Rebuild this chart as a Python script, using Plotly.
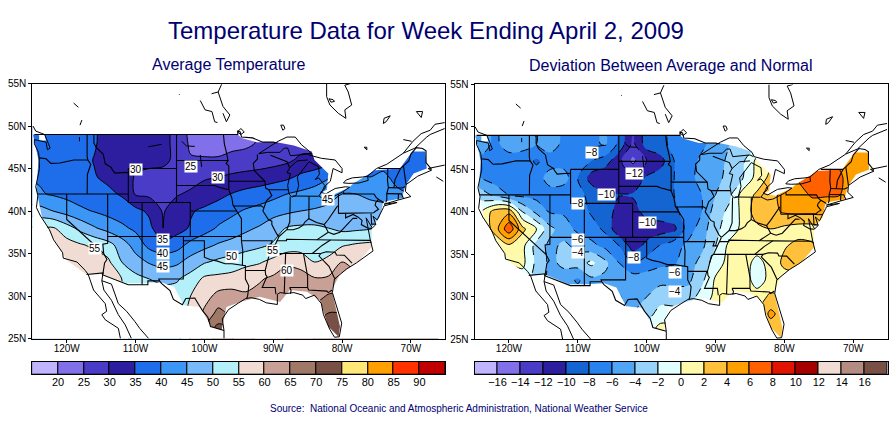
import plotly.graph_objects as go

LONS = list(range(-126, -65, 2))
LATS = list(range(24, 51, 2))

# average temperature (deg F) read at grid nodes, south to north
T24 = [58,58,58,58,58,58,58,56,54,53,53,53,60,66,72,70,66,64,64,65,67,70,73,73,73,73,73,73,73,73,73]
T26 = [58,58,58,58,58,58,58,56,54,53,53,53,60,66,72,70,66,64,64,65,67,70,73,73,73,73,73,73,73,73,73]
T28 = [58,58,58,58,58,58,58,56,54,53,53,53,56,61,66.5,64,62,62,63,64,65,67,70,70,70,70,70,70,70,70,70]
T30 = [58,58,58,58,58,58,58,55,53,52,52,52,55,58,61.5,62,60.5,61.5,63,64,64,63,65.5,66,66,66,66,66,66,66,66]
T32 = [58,58,58,58,58,58.5,60,55,51.5,50,49,49.5,52,56,56.5,57,58.5,59.5,61,62.5,63,60.5,60.7,62,62,62,62,62,62,62,62]
T34 = [57,57,57,57,57,57.5,56,50,47,44.5,43,44,47,49.5,51,52,53.5,54.5,56.5,59,57.5,55,56.5,60,58,58,58,58,58,58,58]
T36 = [57,57,57,57,55.5,54,52,47.5,43,38.5,37,38,41.5,43.5,45.5,46.8,47.8,49,50.5,52,53,53.5,52,54.5,55.5,56,56,56,56,56,56]
T38 = [56,55,55.5,52,48.5,45.5,43,41,39,36.5,30,33,35.5,38,40.5,42,44,45.5,48,50.3,51,51,50,48.8,49,49.5,51,51,51,51,51]
T40 = [48,47,45,43,41,39.7,38.5,37.5,36.5,34,29.5,33,34.5,36,37.5,39,40.5,41.5,43,44,45,45.5,46,46.5,46.5,47,47,47,47,47,47]
T42 = [41,40.5,39.5,38.5,37.5,37,36,34.5,29.5,29,28.5,29.5,31,32,33.5,35.2,36.5,37.5,38.5,40,41,42,43.5,45,45,44,43,41,40,40,40]
T44 = [40,39.5,38,38,37.5,35.3,34,33,29.5,29,28.5,28,27.5,29.5,30,31,31.5,32,33,34,36,37.5,39.5,41,42,40,41,38.5,38.5,38,38]
T46 = [38,37,37,37,36.5,34.8,33,32,31.5,31,31,29,25.5,25.5,25.5,26,27,27.5,28,29,31,31.5,33,36,36,37,38,38,38,38,38]
T48 = [39,38,37,37,36.5,35.5,33,33,32,31,31,29,24,23,23,24,24,25.5,26,27,28,28,30,32,34,36,37,38,38,38,38]
T50 = [39,38,37,37,36.5,35.5,33,33,32,31,31,29,23,22,22,23,24,25,26,27,28,28,30,32,34,36,37,38,38,38,38]
TEMP = [T24,T26,T28,T30,T32,T34,T36,T38,T40,T42,T44,T46,T48,T50]

# departure from normal (deg F) read at the same nodes
D24 = [-4,-4,-4,-4,-4,-4,-5,-5,-5,-5,-5,-5,-3,-1,0.8,0.5,0,0,0.5,1,1,2,2.7,2.7,2.7,2.7,2.7,2.7,2.7,2.7,2.7]
D26 = [-4,-4,-4,-4,-4,-4,-5,-5,-5,-5,-5,-5,-3,-1,0.8,0.5,0,0,0.5,1,1,2,2.7,2.7,2.7,2.7,2.7,2.7,2.7,2.7,2.7]
D28 = [-4,-4,-4,-4,-4,-4,-5,-5,-5,-5,-5,-5,-4,-3,-1,-1,-1,0,0.5,1,1,2,4.5,3,3,3,3,3,3,3,3]
D30 = [-4,-4,-4,-4,-4,-4,-5,-5,-5,-5,-5,-6.3,-5,-4,-3,-3.2,-3,-1.2,0.5,1,1,0.8,2.5,2,2,2,2,2,2,2,2]
D32 = [-1,-1,-1,-1,-1,-3,-4.5,-5,-6.3,-4.5,-4.5,-4.5,-4.8,-5,-4.5,-4.5,-4.5,-2.5,0.3,0.8,1,-0.8,0.5,1,1,1,1,1,1,1,1]
D34 = [-1,-1,0,0,0.5,-2.5,-4.5,-3.5,-3,-1.5,-3.5,-6,-8,-7,-6.5,-6.2,-5,-3.3,-1,0.7,1,-0.7,0.7,2.5,3,2.5,2,2,2,2,2]
D36 = [-1,-1,0,1.5,0.5,-2.8,-4.5,-3.6,-4.5,-5.5,-6.5,-8,-10.9,-9.5,-7.8,-6.8,-5.5,-4.5,-2,0.5,1,1,1.5,1.8,2.6,2.3,1.5,1.5,1.5,1.5,1.5]
D38 = [0,0,3,7.5,2.5,0,-3.5,-5,-6.5,-7,-8.5,-11.5,-11,-11,-11,-10.5,-7,-5,-2.5,-1,0.5,1.5,2,1.5,1,1,1.5,1.5,1.5,1.5,1.5]
D40 = [0,0,3,3.5,-2,-4.5,-6.2,-6.3,-6.8,-8.3,-8.7,-11,-10.8,-9.3,-8.8,-8.5,-7,-6,-3,-1.5,0.6,3,3.5,4.2,4.5,4.5,4.5,4,4,4,4]
D42 = [-2,-3,-4.5,-6,-6.5,-6.7,-7,-7.5,-7.5,-8.5,-9.8,-9.9,-9.8,-9,-8.5,-8,-7,-6,-4,-2.5,1,2.3,3.5,4.5,5,6.3,6.2,6.1,4,4,4]
D44 = [-5,-6,-7,-7,-7,-7,-5,-5,-8,-11,-11.8,-11.5,-11.5,-9.7,-9,-8,-6.5,-5.5,-4.5,-3.5,-2,0.8,2.5,3,6.2,7,7.2,6.5,4.5,4,4]
D46 = [-6,-6.5,-7,-7,-7,-8.3,-7,-7,-7.5,-8,-9,-11.5,-14.5,-12,-10.8,-8,-7,-5.5,-5,-3.5,-2.3,0.5,1.5,2,3,5,6.5,5.5,4.5,4.5,4]
D48 = [-5,-5,-6.5,-5,-5.3,-6,-5,-6.5,-7,-6.5,-5.7,-8.5,-12.5,-9,-8.5,-7.5,-7.2,-6.5,-5,-4,-3,-2,-1,0,1,3,4,5,4.5,4.5,4]
D50 = [-5,-5,-6.5,-5,-5.3,-6,-5,-6.5,-7,-6.5,-5.7,-8.5,-12.5,-9,-8.5,-7.5,-7.2,-6.5,-5,-4,-3,-2,-1,0,1,3,4,5,4.5,4.5,4]
DEV = [D24,D26,D28,D30,D32,D34,D36,D38,D40,D42,D44,D46,D48,D50]

TEMP_LEVELS = [20,25,30,35,40,45,50,55,60,65,70,75,80,85,90]
TEMP_COLORS = ["#c0b4ff","#8170ea","#4b3cc8","#2d1ea0","#1e6eeb","#3c96f5","#78b9fa","#b4f0fa",
               "#f0dcd2","#c8a096","#a07868","#785046","#ffe878","#ffa000","#ff3200","#c00000"]
DEV_LEVELS = [-16,-14,-12,-10,-8,-6,-4,-2,0,2,4,6,8,10,12,14,16]
DEV_COLORS = ["#c0b4ff","#8170ea","#4b3cc8","#2d1ea0","#1464d2","#2882f0","#50a5f5","#96d2fa","#e1ffff",
              "#fffaaa","#ffc03c","#ffa000","#ff6000","#e11400","#a50000","#f0dcd2","#b48c82","#785046"]

TEMP_LABELS = [(-109.9,44.9,"30"),(-101.9,45.2,"25"),(-98,43.9,"30"),(-106,36.6,"35"),(-106,35,"40"),
               (-106,33.5,"45"),(-115.9,35.6,"55"),(-96,34.7,"50"),(-90,35.4,"55"),(-88,33,"60"),(-82,41.4,"45")]
DEV_LABELS = [(-107.9,47,"−8"),(-101.8,44.5,"−12"),(-105.9,42,"−10"),(-109.9,41,"−8"),(-99.9,38.8,"−10"),
              (-109.9,36.7,"−6"),(-109.9,35.2,"−4"),(-101.9,34.6,"−8"),(-95.9,32.9,"−6"),(-95.9,30.6,"−4")]

X_TICKS = [-120,-110,-100,-90,-80,-70]
X_TEXT = ["120W","110W","100W","90W","80W","70W"]
Y_TICKS = [25,30,35,40,45,50,55]
Y_TEXT = ["25N","30N","35N","40N","45N","50N","55N"]

# outline of the area with data, used to blank everything around it
US_EDGE = [(-123.3,49),(-95.15,49),(-94.6,48.6),(-92.4,48.1),(-89.5,48.1),(-87,47.7),(-84.4,47),(-84,46),(-82,44.4),
           (-82.2,42.5),(-82.9,42.2),(-81.3,41.9),(-78.9,42.8),(-78.4,43.2),(-75.2,44.8),(-71.6,45),(-71,45.7),(-69.8,47),
           (-67.9,47),(-67.7,45),(-69.6,44.4),(-70.8,43),(-71.3,41.5),(-74,41.1),(-74.5,39.3),(-75.7,38.1),(-75.7,35.8),
           (-77.4,34.2),(-80.3,32.6),(-81.5,30.7),(-80.3,26.4),(-80.5,25.2),(-82,26.4),(-83.2,29.5),(-85.1,30.5),(-87.6,30.7),
           (-89,29.3),(-92,29.9),(-94.8,29.3),(-96.8,28.7),(-97.5,26),(-99,26.4),(-100.6,28.7),(-103,28.9),(-104.4,31.1),
           (-106.2,31.6),(-108.4,31.5),(-111.3,31.5),(-114.7,32.6),(-117.1,32.5),(-120,34.2),(-122.4,37.4),(-123.6,39.3),
           (-124.4,42.5),(-124.1,46),(-124.7,48.2),(-124.9,49),(-124,48.9),(-124,48.3),(-123,48.3),(-123.3,49)]

BORDERS = [
 [(-124.7,49),(-95.15,49),(-95.15,49.4),(-94.8,49.3),(-94.6,48.7),(-93,48.6),(-91.5,48.1),(-90,48.1),(-89.4,48)],
 [(-124,46.25),(-123,46.15),(-122.3,45.6),(-121,45.65),(-119.3,45.95),(-118.98,46),(-116.92,46)],
 [(-117.03,49),(-117.04,46.4),(-116.92,46),(-116.5,45.5),(-117,44.3),(-117.03,42)],
 [(-124.2,42),(-111.05,42)],
 [(-120,42),(-120,39),(-114.63,35),(-114.75,36.1),(-114.05,36.2),(-114.05,42)],
 [(-114.63,35),(-114.15,34.3),(-114.5,33.9),(-114.72,32.72)],
 [(-117.12,32.53),(-114.72,32.72),(-114.81,32.5),(-111.07,31.33),(-108.21,31.33),(-108.21,31.78),(-106.53,31.78),(-106.2,31.45),
  (-105,30.65),(-104.5,29.6),(-103.2,28.98),(-102.7,29.7),(-101.4,29.77),(-100.3,28.3),(-99.5,27.5),(-99.1,26.4),(-97.15,25.95)],
 [(-114.05,37),(-102.04,37),(-94.62,37)],
 [(-109.05,41),(-109.05,31.33)],
 [(-111.05,45),(-111.05,41),(-104.05,41),(-104.05,49)],
 [(-111.05,45),(-104.05,45)],
 [(-116.05,49),(-116.05,48),(-115.7,47.45),(-114.7,46.7),(-114.4,45.55),(-113.5,45.1),(-113.45,44.95),(-113,44.45),(-111.5,44.55),(-111.05,44.5)],
 [(-104.05,45.94),(-96.56,45.94)],
 [(-104.05,43),(-98.5,43),(-97.9,42.8),(-96.45,42.5)],
 [(-104.05,41),(-102.05,41),(-102.05,37)],
 [(-102.05,40),(-95.3,40)],
 [(-97.23,49),(-97.1,47.9),(-96.8,46.9),(-96.56,45.94),(-96.85,45.6),(-96.45,45.3),(-96.45,42.5),(-96,41.5),(-95.85,40.7),(-95.3,40),(-94.62,39.1),(-94.62,36.5)],
 [(-96.45,43.5),(-91.22,43.5)],
 [(-92.3,46.66),(-92.3,46.1),(-92.9,45.6),(-92.75,44.75),(-91.2,43.5),(-91.1,42.7),(-90.65,42.5),(-90.2,41.8),(-91,41.2),(-91.4,40.4),(-91.5,40),(-90.7,39),(-90.2,38.8),(-90.2,38.4),(-89.5,37.3),(-89.15,37)],
 [(-95.77,40.58),(-91.73,40.6),(-91.4,40.4)],
 [(-94.62,36.5),(-90.15,36.5),(-90.37,36),(-89.7,36)],
 [(-94.62,36.5),(-94.43,35.4),(-94.48,33.64)],
 [(-103.04,37),(-103.06,32),(-106.62,32),(-106.53,31.78)],
 [(-103.04,36.5),(-100,36.5),(-100,34.56),(-99.2,34.3),(-98.1,34.1),(-97,33.8),(-96,33.8),(-94.48,33.64),(-94.04,33.55),(-94.04,31.99),(-93.55,31.2),(-93.7,30.1),(-93.85,29.7)],
 [(-94.04,33),(-91.17,33),(-91.1,32.5),(-90.9,32.3),(-91.6,31),(-89.73,31),(-89.6,30.2)],
 [(-91.17,33),(-90.6,34.8),(-90.3,35),(-89.7,36),(-89.5,36.5),(-89.15,37)],
 [(-90.3,35),(-84.32,35),(-83.1,35)],
 [(-89.5,36.5),(-88.07,36.5),(-88.07,36.68),(-83.68,36.6),(-81.68,36.59),(-75.9,36.55)],
 [(-83.68,36.6),(-82,37.5),(-82.6,38.4)],
 [(-81.68,36.59),(-82.9,35.95),(-84.32,35)],
 [(-83.1,35),(-82.3,35.2),(-81,35.15),(-80.8,34.82),(-79.67,34.8),(-78.55,33.86)],
 [(-83.1,35),(-83.35,34.7),(-81.9,33.5),(-81.1,32.1),(-80.9,32.03)],
 [(-85.6,34.98),(-85.18,32.87),(-85,32.3),(-85,31),(-84.86,30.7),(-82.2,30.57),(-82,30.4),(-81.45,30.7)],
 [(-87.6,31),(-85,31)],
 [(-87.6,31),(-87.4,30.65),(-87.5,30.28)],
 [(-88.2,35),(-88.4,31.9),(-88.4,30.3)],
 [(-90.65,42.5),(-87.8,42.5)],
 [(-87.53,41.7),(-87.53,39.35),(-87.6,38.7),(-88.03,37.8)],
 [(-89.15,37),(-88.03,37.8),(-87.1,37.8),(-86.3,38),(-85.7,38.3),(-85.4,38.7),(-84.82,39.1),(-83.7,38.65),(-82.6,38.4),(-82,39),(-80.65,40.6)],
 [(-84.82,39.1),(-84.8,41.7)],
 [(-87.2,41.76),(-84.8,41.76),(-83.45,41.73)],
 [(-80.52,42),(-80.52,39.72)],
 [(-79.76,42.27),(-79.76,42),(-75.35,42),(-75.05,41.6),(-74.7,41.36),(-73.9,41)],
 [(-80.52,39.72),(-75.79,39.72),(-75.4,39.8),(-75.1,40),(-74.7,40.2),(-75.2,40.7),(-75.1,41),(-74.7,41.36)],
 [(-75.79,39.72),(-75.7,38.46),(-75.05,38.45)],
 [(-79.48,39.72),(-79.48,39.2),(-78.4,39.6),(-77.7,39.3),(-77.1,38.9),(-77.2,38.4),(-76.3,38),(-75.65,37.95)],
 [(-82,37.5),(-81.2,37.25),(-80.3,37.5),(-79.3,38.4),(-78.4,39.15),(-77.8,39.13)],
 [(-74.7,45),(-73.35,45),(-73.4,43.6),(-73.27,42.75),(-73.5,42.05),(-73.5,41.3),(-73.65,41)],
 [(-73.35,45),(-71.5,45),(-71.08,45.3),(-70.3,45.9),(-70,46.7),(-69.2,47.45),(-68.3,47.35),(-67.8,47.07),(-67.8,45.7),(-67,44.9)],
 [(-71.5,45),(-72.3,43.7),(-72.46,42.73)],
 [(-73.27,42.75),(-71.3,42.7),(-70.8,42.87)],
 [(-73.5,42.05),(-71.8,42),(-71.38,42.02),(-71.1,41.5)],
 [(-71.8,42),(-71.85,41.32)],
 [(-71.08,45.3),(-70.7,43.1)],
 [(-90.4,46.55),(-89,46.1),(-88,45.8),(-87.6,45.1)],
]

COASTS = [
 [(-124.7,48.4),(-124.7,47.9),(-124.1,46.9),(-124,46.25),(-123.95,45),(-124.5,42.85),(-124.2,41.8),(-124.4,40.4),(-123.8,39.4),(-122.5,37.8),
  (-121.9,36.6),(-120.6,35.1),(-120.5,34.45),(-118.5,34),(-117.3,33),(-116.86,32.5),(-116.1,30.7),(-114.4,29.1),(-114.2,28.2),(-114.9,27.8),
  (-114.4,27.2),(-112.5,26.2),(-112.2,25)],
 [(-114.72,32.72),(-114.9,31.8),(-114.6,30.7),(-113.5,29.5),(-112.5,27.8),(-111.5,26.6),(-110.6,25)],
 [(-114.9,31.8),(-113.5,31.4),(-112.5,29.1),(-111.3,28.2),(-110.1,27),(-109.4,26.2),(-108.1,25)],
 [(-124.9,50),(-124.5,49.4),(-123.2,49),(-122.8,48.3),(-122.4,47.4),(-122.8,47.2),(-123,48.1),(-124.7,48.4)],
 [(-97.15,25),(-97.15,25.95),(-97.4,27.3),(-96.5,28.4),(-95,29.2),(-94,29.7),(-93.2,29.8),(-92,29.6),(-91,29.2),(-89.4,29),(-89.4,30.2),(-89,30.4),
  (-88,30.3),(-87,30.4),(-85.7,30.1),(-85.3,29.7),(-84,30.1),(-83,29.1),(-82.7,27.8),(-81.8,26.1),(-81.1,25.15),(-80.4,25.2),(-80.05,26.8),
  (-80.6,28.4),(-81.4,30.4),(-81.1,32),(-79.3,33.2),(-77.9,33.9),(-76.6,34.7),(-75.5,35.3),(-75.9,36.6),(-76,37),(-76.3,38),(-76.5,39.2),
  (-75.6,38),(-75.1,38.4),(-75.5,39.4),(-74.9,38.95),(-74,40.4),(-73.9,40.6),(-72,41),(-73.9,40.8),(-71.8,41.3),(-71,41.5),(-70,41.7),
  (-70.8,42.3),(-70.7,43.1),(-69,44.1),(-67,44.8),(-67.5,45),(-65.1,45.4)],
 [(-92.1,46.75),(-90.8,46.9),(-89,46.9),(-88.4,47.4),(-87.9,47.4),(-87.5,46.5),(-85,46.7),(-84.5,46.5)],
 [(-92.1,46.75),(-91,47.3),(-89.3,48.2),(-88,48.7),(-86.8,48.7),(-85.9,47.8),(-84.7,47),(-84.4,46.5),(-83,46.2),(-81,46),(-80,45),(-80,44.5),
  (-81.3,45),(-81.7,43.5),(-82.4,43),(-82.5,42.6),(-83.1,42.2),(-82.4,42),(-81,42.65),(-79.5,42.85),(-78.9,42.8)],
 [(-85,46),(-86.5,45.9),(-87.6,45.1),(-88,44.5),(-87.5,44.4),(-87.9,43),(-87.7,42),(-87.3,41.65),(-86.7,41.8),(-86.3,43),(-86.5,44),(-85.5,45),(-84.8,45.8),
  (-83.4,45.2),(-83.3,44.3),(-83.9,43.7),(-83.4,43.9),(-82.5,43),(-82.9,42.3),(-83.4,41.75),(-82.5,41.4),(-81.7,41.5),(-80,42.2),(-78.9,42.8)],
 [(-79.8,43.3),(-79,43.25),(-77.5,43.3),(-76.2,43.6),(-76.3,44.1),(-77,44),(-78.5,43.9),(-79.4,43.65),(-79.8,43.3)],
 [(-76.3,44.1),(-75,45),(-73.5,45.5),(-72,46.3),(-71.1,46.8),(-69.7,48.2),(-68.5,49.1),(-67.2,49.5),(-66.5,50.2),(-65.1,50.4)],
 [(-71.1,46.8),(-69.4,47.4),(-67.7,48.7),(-67.2,49),(-65.1,49.7)],
 [(-71.1,48.4),(-69.9,48.2)],
 [(-66.3,44),(-65.3,43.5)],
 [(-82.24,55),(-82.24,53.45),(-81.76,52.47),(-80.55,51.5),(-79.44,50.9),(-79.6,51.9),(-78.6,52.47),(-79.1,54),(-79.6,54.8),(-78.76,55)],
 [(-81.9,53.2),(-81.3,53.1),(-81.1,52.9),(-81.6,52.8),(-81.9,53.2)],
 [(-88.9,50.1),(-88.5,50.1),(-88.3,49.7),(-88.6,49.5),(-88.9,50.1)],
 [(-95.2,49.3),(-94.7,49.7),(-94.2,49.3),(-94.7,49),(-95.2,49.3)],
 [(-74,50.3),(-73.9,50.9),(-73,51.2),(-73.6,50.5),(-74,50.3)],
 [(-69.2,51.7),(-68.3,51.7),(-68.5,51),(-69.2,51.7)],
 [(-76.8,47.5),(-76.4,47.5),(-76.4,47.2),(-76.8,47.5)],
 [(-100.6,53),(-99.9,51.9),(-98.9,51.7),(-98.5,50.5),(-98.1,50.4)],
 [(-98.95,53.8),(-98,54),(-97.3,52.3),(-96.3,51.3),(-96.8,50.5),(-97.3,51.5)],
 [(-98,54),(-97.5,54.9)],
 [(-119,52.7),(-118.3,52.2)],
 [(-117.8,50.7),(-118.07,50.1)],
 [(-118.15,48.7),(-118.15,48.2)],
 [(-108.15,47.55),(-106.2,47.85)],
 [(-103.3,48.2),(-102.6,47.65),(-101.4,47.6)],
 [(-100.6,46.6),(-100.4,45.2)],
 [(-103.7,53.7),(-103.6,53.7)],
]

BLACK = "#000000"
NAVY = "#000070"
FONT = "Liberation Sans"
W, H = 895, 423


def path(segments):
    xs, ys = [], []
    for seg in segments:
        xs += [p[0] for p in seg] + [None]
        ys += [p[1] for p in seg] + [None]
    return xs, ys


def steps(colors):
    n = len(colors)
    out = []
    for i, c in enumerate(colors):
        out += [[i / n, c], [(i + 1) / n, c]]
    return out


def hx(px):
    return px / W


def vy(py):
    return 1 - py / H


fig = go.Figure()


def add_map(n, z, levels, colors, labels, x0, x1, y0, y1):
    xa, ya = f"x{n}", f"y{n}"
    step = levels[1] - levels[0]
    lines_split = levels[0] < 0
    fig.add_trace(go.Contour(
        x=LONS, y=LATS, z=z, xaxis=xa, yaxis=ya, showscale=False, hoverinfo="skip",
        colorscale=steps(colors), zmin=levels[0] - step, zmax=levels[-1] + step,
        autocontour=False,
        contours=dict(start=levels[0], end=levels[-1], size=step, coloring="fill", showlines=not lines_split),
        line=dict(color=BLACK, width=1, smoothing=0.9)))
    if lines_split:
        neg = [v for v in levels if v < 0]
        pos = [v for v in levels if v >= 0]
        for part, dash in ((neg, "dash"), (pos, "solid")):
            fig.add_trace(go.Contour(
                x=LONS, y=LATS, z=z, xaxis=xa, yaxis=ya, showscale=False, hoverinfo="skip",
                autocontour=False,
                contours=dict(start=part[0], end=part[-1], size=step, coloring="none"),
                line=dict(color=BLACK, width=1, dash=dash, smoothing=0.9)))
    # blank the area around the country, then draw the outlines over it
    box = [(-126, 56), (-64, 56), (-64, 24), (-126, 24), (-126, 56)]
    ring = box + US_EDGE[::-1] + [box[0]]
    fig.add_trace(go.Scatter(x=[p[0] for p in ring], y=[p[1] for p in ring], xaxis=xa, yaxis=ya,
                             mode="lines", fill="toself", fillcolor="white", line=dict(width=0),
                             hoverinfo="skip", showlegend=False))
    for segs, wd in ((COASTS, 1), (BORDERS, 1.1)):
        xs, ys = path(segs)
        fig.add_trace(go.Scatter(x=xs, y=ys, xaxis=xa, yaxis=ya, mode="lines",
                                 line=dict(color=BLACK, width=wd), hoverinfo="skip", showlegend=False))
    fig.update_layout({
        f"xaxis{n}": dict(domain=[hx(x0), hx(x1)], range=[-125, -65], anchor=ya, tickvals=X_TICKS, ticktext=X_TEXT,
                          ticks="outside", ticklen=3, tickcolor=BLACK, showline=True, mirror=True, linecolor=BLACK,
                          linewidth=1, showgrid=False, zeroline=False, automargin=False, ticklabelstandoff=-3,
                          tickfont=dict(family=FONT, size=10, color=BLACK)),
        f"yaxis{n}": dict(domain=[vy(y1), vy(y0)], range=[25, 55], anchor=xa, tickvals=Y_TICKS, ticktext=Y_TEXT,
                          ticks="outside", ticklen=3, tickcolor=BLACK, showline=True, mirror=True, linecolor=BLACK,
                          linewidth=1, showgrid=False, zeroline=False, automargin=False,
                          tickfont=dict(family=FONT, size=10, color=BLACK)),
    })
    for lon, lat, txt in labels:
        fig.add_annotation(x=lon, y=lat, xref=xa, yref=ya, text=txt, showarrow=False, bgcolor="white",
                           borderpad=0, font=dict(family=FONT, size=10, color=BLACK))


def add_bar(n, levels, colors, x0, x1, y0, y1):
    xa, ya = f"x{n}", f"y{n}"
    fig.add_trace(go.Bar(x=[i + 0.5 for i in range(len(colors))], y=[1] * len(colors), width=1, xaxis=xa, yaxis=ya,
                         marker=dict(color=colors, line=dict(color=BLACK, width=1)), hoverinfo="skip", showlegend=False))
    fig.update_layout({
        f"xaxis{n}": dict(domain=[hx(x0), hx(x1)], range=[0, len(colors)], anchor=ya, tickvals=list(range(1, len(colors))),
                          ticktext=[str(v).replace("-", "−") for v in levels], ticks="", showgrid=False, zeroline=False,
                          showline=True, mirror=True, linecolor=BLACK, linewidth=1, automargin=False, ticklabelstandoff=-3,
                          tickfont=dict(family=FONT, size=11, color=BLACK)),
        f"yaxis{n}": dict(domain=[vy(y1), vy(y0)], range=[0, 1], anchor=xa, showticklabels=False, ticks="", showgrid=False,
                          zeroline=False, showline=True, mirror=True, linecolor=BLACK, linewidth=1, automargin=False),
    })


add_map(1, TEMP, TEMP_LEVELS, TEMP_COLORS, TEMP_LABELS, 32.3, 445.3, 83.5, 338.5)
add_map(2, DEV, DEV_LEVELS, DEV_COLORS, DEV_LABELS, 474.5, 887.7, 84.4, 339.4)
add_bar(3, TEMP_LEVELS, TEMP_COLORS, 32.3, 445.3, 361.7, 374.3)
add_bar(4, DEV_LEVELS, DEV_COLORS, 474.5, 887.7, 361.7, 374.3)

for txt, px, py, size in (("Temperature Data for Week Ending April 2, 2009", 425.5, 31, 24),
                          ("Average Temperature", 228, 64, 16),
                          ("Deviation Between Average and Normal", 670, 65, 16),
                          ("Source:  National Oceanic and Atmospheric Administration, National Weather Service", 459, 408.5, 10)):
    fig.add_annotation(x=hx(px), y=vy(py), xref="paper", yref="paper", text=txt, showarrow=False,
                       xanchor="center", yanchor="middle", font=dict(family=FONT, size=size, color=NAVY))

fig.update_layout(width=W, height=H, margin=dict(l=0, r=0, t=0, b=0, pad=0, autoexpand=False), paper_bgcolor="white",
                  plot_bgcolor="white", showlegend=False, bargap=0)
fig.write_html("out.html", config=dict(displayModeBar=False), post_script="document.body.style.margin='0';")
